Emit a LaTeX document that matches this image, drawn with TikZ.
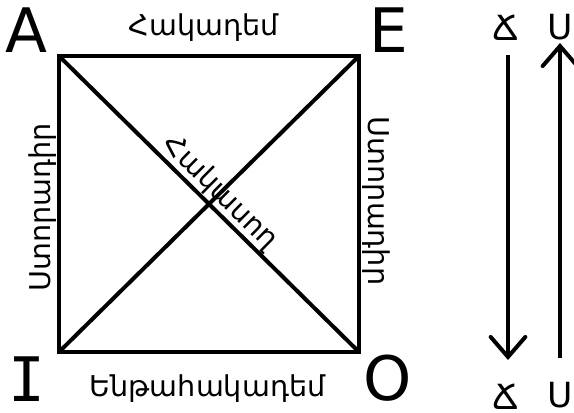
\documentclass[tikz,border=0pt]{standalone}
\usepackage{fontspec}
\setmainfont{DejaVu Sans}
\newfontfamily\serifI{DejaVu Sans Mono}
\usetikzlibrary{arrows.meta}
\tikzset{
  corner/.style={font=\fontsize{46}{50}\selectfont, inner sep=0pt},
  side/.style={font=\fontsize{21.5}{24}\selectfont, inner sep=0pt, anchor=base},
  tag/.style={font=\fontsize{26}{28}\selectfont, inner sep=0pt},
  link/.style={line width=3pt},
  flow/.style={line width=3pt, -{Straight Barb[length=15pt, width=26pt, line cap=round]}}
}
\begin{document}
\begin{tikzpicture}[x=0.75pt,y=-0.75pt]
  \useasboundingbox (0,0) rectangle (574,413);
  \coordinate (cA) at (59,56);
  \coordinate (cE) at (359,56);
  \coordinate (cI) at (59,352);
  \coordinate (cO) at (359,352);
  \draw[link] (cA) -- (cE) -- (cO) -- (cI) -- cycle;
  \draw[link] (cA) -- (cO);
  \draw[link] (cE) -- (cI);
  \node[corner] (A) at (26.5,30.5) {A};
  \node[corner] (E) at (389,30.5) {E};
  \node[corner] (I) at (27,379.5) {\serifI I};
  \node[corner] (O) at (387.5,378) {O};
  \node[side] (top) at (203.5,36) {Հակադեմ};
  \node[side] (bottom) at (207.5,396) {Ենթահակադեմ};
  \node[side, rotate=90] (left) at (50,207.5) {Ստորադիր};
  \node[side, rotate=-90] (right) at (368,201) {Ստորադիր};
  \node[side, rotate=-44.6] (diag) at (214.6,198.3) {Հակասող};
  % right-hand arrows
  \node[tag] (chTop) at (506,28) {Ճ};
  \node[tag] (chBot) at (506,397) {Ճ};
  \node[tag] (seTop) at (560.5,27.5) {Ս};
  \node[tag] (seBot) at (560.5,395) {Ս};
  \coordinate (chFrom) at (508,55);
  \coordinate (chTo) at (508,360);
  \coordinate (seFrom) at (560,358);
  \coordinate (seTo) at (560,43);
  \draw[flow] (chFrom) -- (chTo);
  \draw[flow] (seFrom) -- (seTo);
\end{tikzpicture}
\end{document}
